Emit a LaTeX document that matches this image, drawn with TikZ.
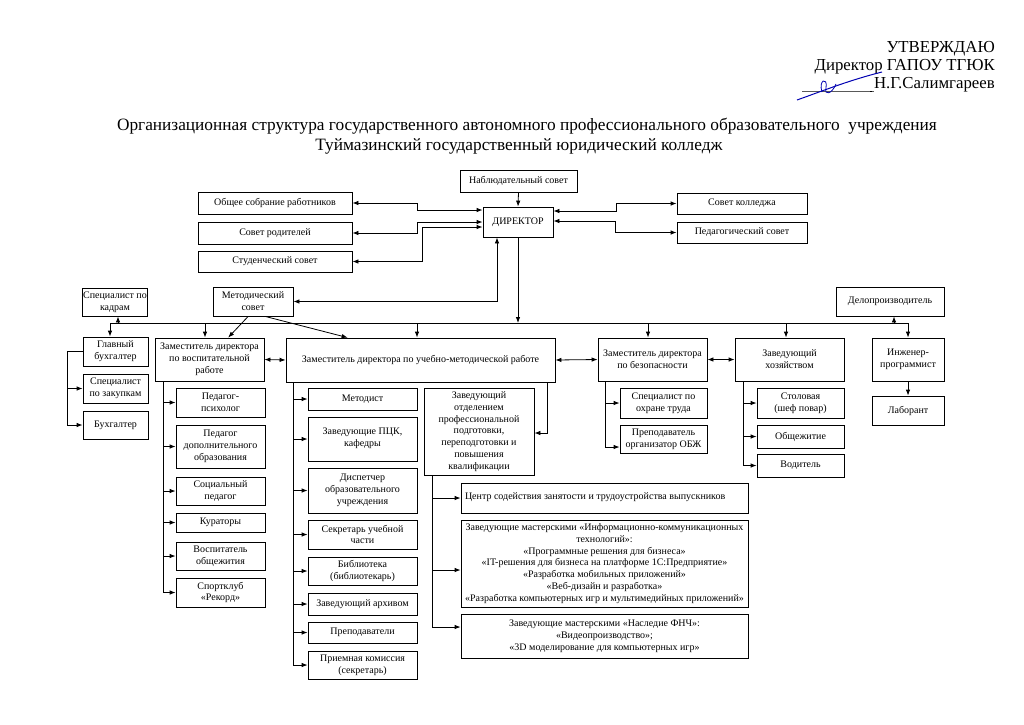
\documentclass[tikz,border=0pt]{standalone}
\usepackage{fontspec}
\setmainfont{Liberation Serif}
\usetikzlibrary{arrows.meta,calc}
\newcommand\bx[6]{\node[box, minimum width={(#4-#2)*1pt}, minimum height={(#5-#3)*1pt}] (#1) at ({(#2+#4)/2},{(#3+#5)/2}) {#6};}
\begin{document}
\begin{tikzpicture}[x=1pt,y=-1pt,
  box/.style={draw, line width=0.8pt, inner sep=1pt, align=center, font=\fontsize{10}{11.8}\selectfont},
  ln/.style={line width=0.8pt},
  >={Latex[length=6pt,width=4.5pt]}]
\useasboundingbox[fill=white] (0,0) rectangle (1024,724);
% header
\node[anchor=base east, font=\fontsize{16.8}{19}\selectfont, inner sep=0] (h1) at (995,52) {УТВЕРЖДАЮ};
\node[anchor=base east, font=\fontsize{16.8}{19}\selectfont, inner sep=0] (h2) at (995,70) {Директор ГАПОУ ТГЮК};
\node[anchor=base east, font=\fontsize{16.8}{19}\selectfont, inner sep=0] (h3) at (995,88) {Н.Г.Салимгареев};
\coordinate (u1) at (802,91);
\draw[line width=0.8pt] (u1) -- (u1 -| h3.west) -- ++(-4,0);
\draw[blue!70!black, line width=1pt] (797,100) .. controls (825,90) and (850,80) .. (882,72);
\draw[blue!70!black, line width=0.8pt] (822,92) .. controls (818,80) and (828,76) .. (826,88) .. controls (824,96) and (832,94) .. (836,84);
% title
\node[anchor=base, font=\fontsize{17.3}{20}\selectfont, inner sep=0] (t1) at (527,130) {Организационная структура государственного автономного профессионального образовательного\ \ учреждения};
\node[anchor=base, font=\fontsize{17.3}{20}\selectfont, inner sep=0] (t2) at (519,150) {Туймазинский государственный юридический колледж};
% top level
\bx{nab}{460}{170}{577}{192}{Наблюдательный совет}
\bx{dir}{483}{207}{553}{237}{ДИРЕКТОР}
\bx{obs}{198}{192}{352}{214}{Общее собрание работников}
\bx{rod}{198}{222}{352}{244}{Совет родителей}
\bx{stu}{198}{251}{352}{272}{Студенческий совет}
\bx{kol}{677}{193}{807}{214}{Совет колледжа}
\bx{ped}{677}{222}{807}{243}{Педагогический совет}
\bx{kad}{83}{288}{147}{316}{Специалист по\\кадрам}
\bx{met}{213}{287}{293}{316}{Методический\\совет}
\bx{del}{836}{287}{944}{316}{Делопроизводитель}
% second level
\bx{gb}{83}{337}{148}{366}{Главный\\бухгалтер}
\bx{zak}{83}{374}{148}{403}{Специалист\\по закупкам}
\bx{buh}{83}{411}{148}{439}{Бухгалтер}
\bx{zv}{155}{338}{264}{381}{Заместитель директора\\по воспитательной\\работе}
\bx{umr}{286}{338}{555}{382}{Заместитель директора по учебно-методической работе}
\bx{bez}{598}{338}{707}{381}{Заместитель директора\\по безопасности}
\bx{hoz}{735}{338}{844}{381}{Заведующий\\хозяйством}
\bx{inz}{872}{338}{944}{381}{Инженер-\\программист}
\bx{lab}{872}{396}{944}{425}{Лаборант}
% zv children
\bx{v1}{176}{388}{265}{417}{Педагог-\\психолог}
\bx{v2}{176}{425}{265}{468}{Педагог\\дополнительного\\образования}
\bx{v3}{176}{477}{265}{505}{Социальный\\педагог}
\bx{v4}{176}{513}{265}{532}{Кураторы}
\bx{v5}{176}{542}{265}{570}{Воспитатель\\общежития}
\bx{v6}{176}{578}{265}{607}{Спортклуб\\«Рекорд»}
% umr children
\bx{w1}{308}{388}{417}{410}{Методист}
\bx{w2}{308}{417}{417}{461}{\raisebox{4pt}{\shortstack{Заведующие ПЦК,\\кафедры}}}
\bx{w3}{308}{468}{417}{513}{Диспетчер\\образовательного\\учреждения}
\bx{w4}{308}{520}{417}{549}{Секретарь учебной\\части}
\bx{w5}{308}{557}{417}{585}{Библиотека\\(библиотекарь)}
\bx{w6}{308}{593}{417}{615}{Заведующий архивом}
\bx{w7}{308}{622}{417}{643}{Преподаватели}
\bx{w8}{308}{651}{417}{679}{Приемная комиссия\\(секретарь)}
\bx{zo}{424}{388}{534}{475}{Заведующий\\отделением\\профессиональной\\подготовки,\\переподготовки и\\повышения\\квалификации}
% bez children
\bx{b1}{620}{388}{707}{418}{Специалист по\\охране труда}
\bx{b2}{620}{425}{707}{453}{Преподаватель\\организатор ОБЖ}
% hoz children
\bx{q1}{757}{388}{844}{418}{Столовая\\(шеф повар)}
\bx{q2}{757}{425}{844}{448}{Общежитие}
\bx{q3}{757}{454}{844}{477}{Водитель}
% zo children
\bx{z1}{461}{483}{748}{513}{\raisebox{4pt}{\makebox[279pt][l]{Центр содействия занятости и трудоустройства выпускников}}}
\bx{z2}{461}{520}{748}{607}{Заведующие мастерскими «Информационно-коммуникационных\\технологий»:\\«Программные решения для бизнеса»\\«IT-решения для бизнеса на платформе 1С:Предприятие»\\«Разработка мобильных приложений»\\«Веб-дизайн и разработка»\\«Разработка компьютерных игр и мультимедийных приложений»}
\bx{z3}{461}{614}{748}{658}{Заведующие мастерскими «Наследие ФНЧ»:\\«Видеопроизводство»;\\«3D моделирование для компьютерных игр»}
% helper coordinates
\coordinate (bus) at (0,323);
\coordinate (busL) at (110,323);
\coordinate (busR) at (908,323);
\coordinate (j1) at (417,210);
\coordinate (j2) at (417,222);
\coordinate (j3) at (422,227);
\coordinate (j4) at (616,211);
\coordinate (j5) at (615,221);
\coordinate (j6) at (497,301);
\coordinate (j7) at (118,323);
\coordinate (j8) at (894,323);
\coordinate (j9) at (547,433);
\coordinate (k1) at (205,323);
\coordinate (k2) at (417,323);
\coordinate (k3) at (648,323);
\coordinate (k4) at (786,323);
\coordinate (s0) at (67,0);
\coordinate (s1) at (163,0);
\coordinate (s2) at (293,0);
\coordinate (s3) at (432,0);
\coordinate (s4) at (605,0);
\coordinate (s5) at (743,0);
% top connectors
\draw[ln,->] (nab.south) -- (dir.north);
\draw[ln,<->] (obs.east) -- (obs.east -| j1) -- (j1) -- (dir.west |- j1);
\draw[ln,<->] (rod.east) -- (rod.east -| j2) -- (j2) -- (dir.west |- j2);
\draw[ln,<->] (stu.east) -- (stu.east -| j3) -- (j3) -- (dir.west |- j3);
\draw[ln,<->] (dir.east |- j4) -- (j4) -- (j4 |- kol.west) -- (kol.west);
\draw[ln,<->] (dir.east |- j5) -- (j5) -- (j5 |- ped.west) -- (ped.west);
\draw[ln,<->] (met.east) -- (met.east -| j6) -- (j6 |- dir.south);
\draw[ln,->] (dir.south) -- (dir.south |- bus);
% bus
\draw[ln] (busL) -- (busR);
\draw[ln,->] (busL) -- (busL |- gb.north);
\draw[ln,->] (j7) -- (j7 |- kad.south);
\draw[ln,->] (j8) -- (j8 |- del.south);
\draw[ln,->] (busR) -- (busR |- inz.north);
\draw[ln,->] (k1) -- (k1 |- zv.north);
\draw[ln,->] (k2) -- (k2 |- umr.north);
\draw[ln,->] (k3) -- (k3 |- bez.north);
\draw[ln,->] (k4) -- (k4 |- hoz.north);
\draw[ln,->] (inz.south) -- (lab.north);
\draw[ln,->] ($(met.south west)!0.44!(met.south east)$) -- ($(zv.north west)!0.67!(zv.north east)$);
\draw[ln,->] ($(met.south west)!0.65!(met.south east)$) -- ($(umr.north west)!0.23!(umr.north east)$);
\draw[ln,<->] (zv.east) -- (umr.west);
\draw[ln,<->] (umr.east) -- (bez.west);
\draw[ln,<->] (bez.east) -- (hoz.west);
% accounting
\draw[ln] (gb.west) -- (s0 |- gb.west) -- (s0 |- buh.west);
\draw[ln,->] (s0 |- zak.west) -- (zak.west);
\draw[ln,->] (s0 |- buh.west) -- (buh.west);
% zv spine
\draw[ln] (s1 |- zv.south) -- (s1 |- v6.west);
\foreach \n in {v1,v2,v3,v4,v5,v6} \draw[ln,->] (s1 |- \n.west) -- (\n.west);
% umr spine
\draw[ln] (s2 |- umr.south) -- (s2 |- w8.west);
\foreach \n in {w1,w2,w3,w4,w5,w6,w7,w8} \draw[ln,->] (s2 |- \n.west) -- (\n.west);
\draw[ln,->] (umr.south -| j9) -- (j9) -- (zo.east |- j9);
% zo spine
\coordinate (z3a) at ([yshift=9pt]z3.west);
\coordinate (z2a) at ([yshift=-6.5pt]z2.west);
\draw[ln] (s3 |- zo.south) -- (s3 |- z3a);
\draw[ln,->] (s3 |- z1.west) -- (z1.west);
\draw[ln,->] (s3 |- z2a) -- (z2a);
\draw[ln,->] (s3 |- z3a) -- (z3a);
% bez spine
\coordinate (b2a) at ([yshift=-8pt]b2.west);
\draw[ln] (s4 |- bez.south) -- (s4 |- b2a);
\draw[ln,->] (s4 |- b1.west) -- (b1.west);
\draw[ln,->] (s4 |- b2a) -- (b2a);
% hoz spine
\draw[ln] (s5 |- hoz.south) -- (s5 |- q3.west);
\foreach \n in {q1,q2,q3} \draw[ln,->] (s5 |- \n.west) -- (\n.west);
\end{tikzpicture}
\end{document}
